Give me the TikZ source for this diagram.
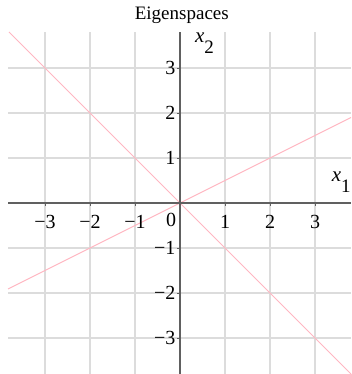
\documentclass[tikz,border=0pt]{standalone}
\usepackage{fontspec}
\setmainfont{Liberation Serif}
\definecolor{gridgray}{HTML}{DCDCDC}
\definecolor{axisgray}{HTML}{606060}
\definecolor{eigenpink}{HTML}{FFB6C1}
\begin{document}
\begin{tikzpicture}[x=45pt,y=45pt,
  gridline/.style={draw=gridgray, line width=1.3pt},
  axisline/.style={draw=axisgray, line width=1.4pt},
  tickmark/.style={draw=axisgray, line width=0.9pt},
  eigen/.style={draw=eigenpink, line width=1pt},
  ticklabel/.style={font=\fontsize{20}{20}\selectfont, inner sep=0pt},
  axislabel/.style={font=\fontsize{21}{21}\selectfont, inner sep=0pt, anchor=base west},
  titlelabel/.style={font=\fontsize{19}{19}\selectfont, inner sep=0pt, anchor=base},
]
\useasboundingbox (-4,-3.8) rectangle (3.8,4.5111);
% grid
\foreach \i in {-3,...,3}{
  \draw[gridline] (\i,-3.8) -- (\i,3.8);
  \draw[gridline] (-3.82,\i) -- (3.8,\i);
}
% eigenspaces
\coordinate (a1) at (-3.8,3.8);
\coordinate (a2) at (3.8,-3.8);
\coordinate (b1) at (-3.82,-1.91);
\coordinate (b2) at (3.8,1.9);
\draw[eigen] (a1) -- (a2);
\draw[eigen] (b1) -- (b2);
% axes
\coordinate (xl) at (-3.82,0);
\coordinate (xr) at (3.8,0);
\coordinate (yb) at (0,-3.8);
\coordinate (yt) at (0,3.8);
\draw[axisline] (xl) -- (xr);
\draw[axisline] (yb) -- (yt);
% ticks and labels
\foreach \i/\t in {-3/−3,-2/−2,-1/−1,1/1,2/2,3/3}{
  \draw[tickmark] (\i,0) -- (\i,-0.07);
  \draw[tickmark] (0,\i) -- (-0.07,\i);
  \node[ticklabel] (xt\i) at (\i,-0.43) {\t};
  \node[ticklabel, anchor=east] (yt\i) at (-0.1,\i) {\t};
}
\node[ticklabel] (zero) at (-0.2,-0.37) {0};
\node[axislabel] (x1) at (3.37,0.467) {\textit{x}\raisebox{-0.5em}{\fontsize{19}{19}\selectfont 1}};
\node[axislabel] (x2) at (0.33,3.556) {\textit{x}\raisebox{-0.5em}{\fontsize{19}{19}\selectfont 2}};
\node[titlelabel] (title) at (0.04,4.067) {Eigenspaces};
\end{tikzpicture}
\end{document}
